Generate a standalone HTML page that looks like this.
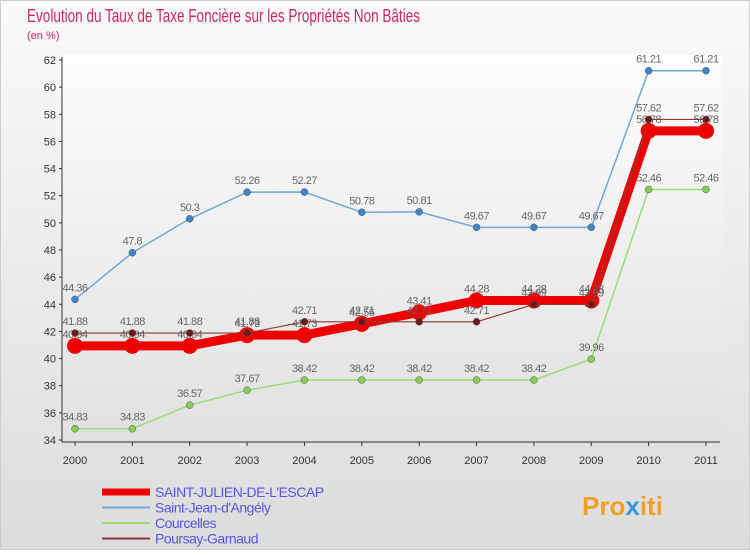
<!DOCTYPE html>
<html><head><meta charset="utf-8"><style>
body{margin:0;background:#fff;font-family:"Liberation Sans",sans-serif}
svg text{font-family:"Liberation Sans",sans-serif}
</style></head><body>
<svg width="750" height="550" xmlns="http://www.w3.org/2000/svg">
<defs>
<linearGradient id="bg" x1="0" y1="0" x2="0" y2="1"><stop offset="0" stop-color="#fafafa"/><stop offset="1" stop-color="#dcdcdc"/></linearGradient>
<linearGradient id="pbg" x1="0" y1="0" x2="0" y2="1"><stop offset="0" stop-color="#fdfdfd"/><stop offset="1" stop-color="#e0e0e0"/></linearGradient>
</defs>
<rect x="0.5" y="0.5" width="749" height="549" fill="url(#bg)" stroke="#ccc"/>
<text x="27" y="22" font-size="18" fill="#d0285a" textLength="393" lengthAdjust="spacingAndGlyphs">Evolution du Taux de Taxe Foncière sur les Propriétés Non Bâties</text>
<text x="27" y="39" font-size="11" fill="#d0285a">(en %)</text>
<rect x="62" y="55" width="660" height="395" fill="url(#pbg)"/>
<g id="axes"></g>
<g id="series"></g>
<g id="legend"></g>
<text x="582" y="515" font-size="26" font-weight="bold" fill="#f0a020">Pro<tspan fill="#3399dd">x</tspan>iti</text>
</svg>
<script>
const years=['2000','2001','2002','2003','2004','2005','2006','2007','2008','2009','2010','2011'];
const yTicks=[34,36,38,40,42,44,46,48,50,52,54,56,58,60,62];
const saintJulien=[40.94,40.94,40.94,41.73,41.73,42.56,43.41,44.28,44.28,44.28,56.78,56.78];
const saintJean=[44.36,47.8,50.3,52.26,52.27,50.78,50.81,49.67,49.67,49.67,61.21,61.21];
const courcelles=[34.83,34.83,36.57,37.67,38.42,38.42,38.42,38.42,38.42,39.96,52.46,52.46];
const poursay=[41.88,41.88,41.88,41.88,42.71,42.71,42.71,42.71,43.99,43.99,57.62,57.62];
const NS='http://www.w3.org/2000/svg';
const xs=i=>75+i*(706-75)/11;
const ys=v=>440-(v-34)*(380/28);
function mk(tag,attrs,parent){const e=document.createElementNS(NS,tag);for(const k in attrs)e.setAttribute(k,attrs[k]);parent.appendChild(e);return e;}
const ax=document.getElementById('axes');
const yl=mk('line',{x1:62,y1:57,x2:62,y2:442,stroke:'#333'},ax);


const xl=mk('line',{x1:62,y1:442,x2:720,y2:442,stroke:'#333'},ax);


yTicks.forEach(v=>{
  const t=mk('text',{x:56,y:ys(v)+4,'font-size':11,'text-anchor':'end',fill:'#333'},ax);t.textContent=v;
  
  
  mk('line',{x1:59,y1:ys(v),x2:62,y2:ys(v),stroke:'#333'},ax);
});
years.forEach((y,i)=>{
  const t=mk('text',{x:xs(i),y:464,'font-size':11,'text-anchor':'middle',fill:'#333'},ax);t.textContent=y;
  
  
  mk('line',{x1:xs(i),y1:442,x2:xs(i),y2:446,stroke:'#333'},ax);
});
const sg=document.getElementById('series');
const series=[
 {n:'courcelles',d:courcelles,c:'#99dd77',w:1.5,r:3.5,f:'#88cc55'},
 {n:'saint-jean',d:saintJean,c:'#6fa8dc',w:1.5,r:3.5,f:'#3d85c6'},
 {n:'saint-julien',d:saintJulien,c:'#ee0000',w:9,r:8,f:'#ee0000'},
 {n:'poursay',d:poursay,c:'#8b3a3a',w:1.2,r:3.5,f:'#6b1a1a'}
];
series.forEach(s=>{
  const g=mk('g',{},sg);
  
  
  const p=mk('polyline',{points:s.d.map((v,i)=>xs(i)+','+ys(v)).join(' '),fill:'none',stroke:s.c,'stroke-width':s.w,'stroke-linejoin':'round'},g);
  
  
  s.d.forEach((v,i)=>{
    const c=mk('circle',{cx:xs(i),cy:ys(v),r:s.r,fill:s.f,stroke:s.n==='saint-julien'?'none':'#555','stroke-width':0.5},g);
    
    
    const t=mk('text',{x:xs(i),y:ys(v)-8,'font-size':11,'text-anchor':'middle',fill:'#666','letter-spacing':'-0.5'},g);
    t.textContent=String(v);
    
    
  });
});
const lg=document.getElementById('legend');
const leg=[['SAINT-JULIEN-DE-L\'ESCAP','#ee0000',7],['Saint-Jean-d\'Angély','#6fa8dc',2],['Courcelles','#99dd77',2],['Poursay-Garnaud','#8b3a3a',2]];
leg.forEach((l,i)=>{
  const y=492+i*15.5;
  const ln=mk('line',{x1:102,y1:y,x2:150,y2:y,stroke:l[1],'stroke-width':l[2]},lg);
  
  
  const t=mk('text',{x:155,y:y+5,'font-size':14,fill:'#5555ee','letter-spacing':'-0.5'},lg);t.textContent=l[0];
  
  
});
</script>
</body></html>
